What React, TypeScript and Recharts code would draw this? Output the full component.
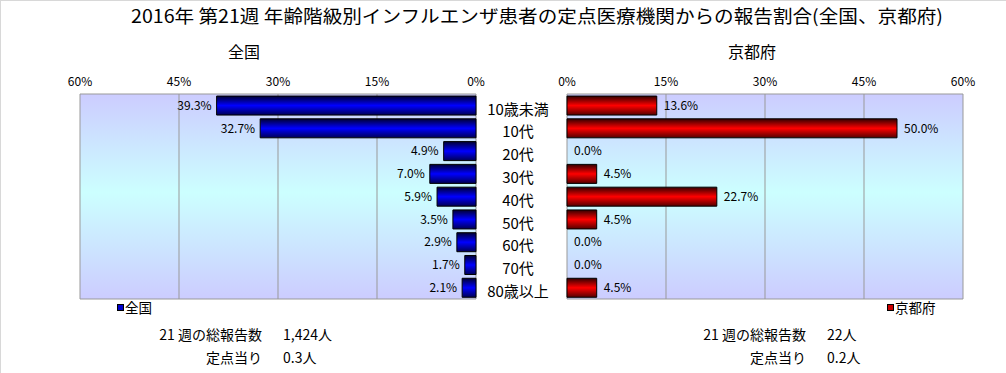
import React from "react";
import { BarChart, Bar, XAxis, YAxis, CartesianGrid, LabelList, Legend, Rectangle } from "recharts";

const categories = ["10歳未満", "10代", "20代", "30代", "40代", "50代", "60代", "70代", "80歳以上"];
const nationalShare = [39.3, 32.7, 4.9, 7.0, 5.9, 3.5, 2.9, 1.7, 2.1];
const kyotoShare = [13.6, 50.0, 0.0, 4.5, 22.7, 4.5, 0.0, 0.0, 4.5];
const pctTicks = [0, 15, 30, 45, 60];

const title = "2016年 第21週 年齢階級別インフルエンザ患者の定点医療機関からの報告割合(全国、京都府)";
const nationalNotes = { total: "1,424人", perSite: "0.3人" };
const kyotoNotes = { total: "22人", perSite: "0.2人" };

const data = categories.map((name, i) => ({ name, national: nationalShare[i], kyoto: kyotoShare[i] }));

const FONT = "'Noto Sans CJK JP', sans-serif";
const pct = (v: number) => v + "%";
const pct1 = (v: any) => Number(v).toFixed(1) + "%";

function BgGradients() {
  return (
    <defs>
      <linearGradient id="plotBg" x1="0" y1="0" x2="0" y2="1">
        <stop offset="0%" stopColor="#ccccff" />
        <stop offset="48%" stopColor="#ccffff" />
        <stop offset="100%" stopColor="#ccccff" />
      </linearGradient>
      <linearGradient id="blueBar" x1="0" y1="0" x2="0" y2="1">
        <stop offset="0%" stopColor="#000033" />
        <stop offset="50%" stopColor="#0000ff" />
        <stop offset="100%" stopColor="#000055" />
      </linearGradient>
      <linearGradient id="redBar" x1="0" y1="0" x2="0" y2="1">
        <stop offset="0%" stopColor="#330000" />
        <stop offset="50%" stopColor="#ff0000" />
        <stop offset="100%" stopColor="#550000" />
      </linearGradient>
    </defs>
  );
}

const edgeLines = ({ offset }: any) => [offset.top, offset.top + offset.height];

function CategoryTick({ x, y, payload }: any) {
  return (
    <text x={x + 42} y={y + 4} dy="0.35em" textAnchor="middle" fontSize={15} fill="#000" fontFamily={FONT}>
      {payload.value}
    </text>
  );
}

// value labels: left chart grows leftwards, right chart rightwards
function barLabel(side: "left" | "right") {
  return (props: any) => {
    const { x, y, width, height, value } = props;
    const left = Math.min(x, x + width);
    const right = Math.max(x, x + width);
    const tx = side === "left" ? left - 5 : (value === 0 ? x : right) + 7;
    return (
      <text x={tx} y={y + height / 2} dy="0.35em" textAnchor={side === "left" ? "end" : "start"}
        fontSize={12} fill="#000" fontFamily={FONT}>
        {pct1(value)}
      </text>
    );
  };
}

// zero values keep their slot (for the label) but draw no bar
const hideZero = (key: string) => (p: any) =>
  p.payload && p.payload[key] === 0 ? <g /> : <Rectangle {...p} />;

function legendBox(label: string, color: string) {
  return () => (
    <div style={{ display: "flex", alignItems: "center", fontFamily: FONT, fontSize: 13.5, color: "#000" }}>
      <span style={{ width: 5, height: 5, background: color, border: "1px solid #000", marginRight: 1 }} />
      {label}
    </div>
  );
}

function Notes({ x, n }: { x: number; n: { total: string; perSite: string } }) {
  return (
    <g fontFamily={FONT} fontSize={14} fill="#000">
      <text x={x} y={340} textAnchor="end">21 週の総報告数</text>
      <text x={x + 21} y={340}>{n.total}</text>
      <text x={x} y={363} textAnchor="end">定点当り</text>
      <text x={x + 21} y={363}>{n.perSite}</text>
    </g>
  );
}

export default function App() {
  return (
    <div style={{ position: "absolute", left: 0, top: 0, width: 1006, height: 373, background: "#fff", overflow: "hidden" }}>
      <svg width={1006} height={373} style={{ position: "absolute", left: 0, top: 0 }}>
        <line x1={0.5} y1={0} x2={0.5} y2={373} stroke="#d8d8d8" />
        <line x1={0} y1={0.5} x2={1006} y2={0.5} stroke="#d8d8d8" />
        <text x={537} y={23} textAnchor="middle" fontSize={18} fontFamily={FONT} fill="#000" textLength={812} lengthAdjust="spacingAndGlyphs">
          {title}
        </text>
        <text x={244} y={58} textAnchor="middle" fontSize={16} fontFamily={FONT} fill="#000">全国</text>
        <text x={752} y={58} textAnchor="middle" fontSize={16} fontFamily={FONT} fill="#000">京都府</text>
        <Notes x={262} n={nationalNotes} />
        <Notes x={806} n={kyotoNotes} />
      </svg>

      <div style={{ position: "absolute", left: 0, top: 0 }}>
        <BarChart width={567} height={373} data={data} layout="vertical" barCategoryGap="9%"
          margin={{ top: 74, right: 0, bottom: 54, left: 80 }}>
          <BgGradients />
          <CartesianGrid fill="url(#plotBg)" fillOpacity={1} stroke="#999" horizontalCoordinatesGenerator={edgeLines} />
          <XAxis type="number" orientation="top" height={20} domain={[0, 60]} ticks={pctTicks} reversed
            tickFormatter={pct} axisLine={false} tickLine={false} tickSize={0} tickMargin={8}
            tick={{ fontSize: 12, fill: "#000", fontFamily: FONT }} interval={0} />
          <YAxis type="category" dataKey="name" orientation="right" width={91} axisLine={false} tickLine={false}
            tickSize={0} tickMargin={0} tick={<CategoryTick />} interval={0} />
          <Legend content={legendBox("全国", "#0000cc")} wrapperStyle={{ position: "absolute", left: 117, top: 297, width: "auto" }} />
          <Bar dataKey="national" fill="url(#blueBar)" stroke="#000" strokeWidth={1} isAnimationActive={false}>
            <LabelList dataKey="national" content={barLabel("left")} />
          </Bar>
        </BarChart>
      </div>

      <div style={{ position: "absolute", left: 520, top: 0 }}>
        <BarChart width={486} height={373} data={data} layout="vertical" barCategoryGap="9%"
          margin={{ top: 74, right: 43, bottom: 54, left: 47 }}>
          <BgGradients />
          <CartesianGrid fill="url(#plotBg)" fillOpacity={1} stroke="#999" horizontalCoordinatesGenerator={edgeLines} />
          <XAxis type="number" orientation="top" height={20} domain={[0, 60]} ticks={pctTicks}
            tickFormatter={pct} axisLine={false} tickLine={false} tickSize={0} tickMargin={8}
            tick={{ fontSize: 12, fill: "#000", fontFamily: FONT }} interval={0} />
          <YAxis type="category" dataKey="name" hide />
          <Legend content={legendBox("京都府", "#cc0000")} wrapperStyle={{ position: "absolute", left: 367, top: 297, width: "auto" }} />
          <Bar dataKey="kyoto" fill="url(#redBar)" stroke="#000" strokeWidth={1} minPointSize={1}
            shape={hideZero("kyoto")} isAnimationActive={false}>
            <LabelList dataKey="kyoto" content={barLabel("right")} />
          </Bar>
        </BarChart>
      </div>
    </div>
  );
}
